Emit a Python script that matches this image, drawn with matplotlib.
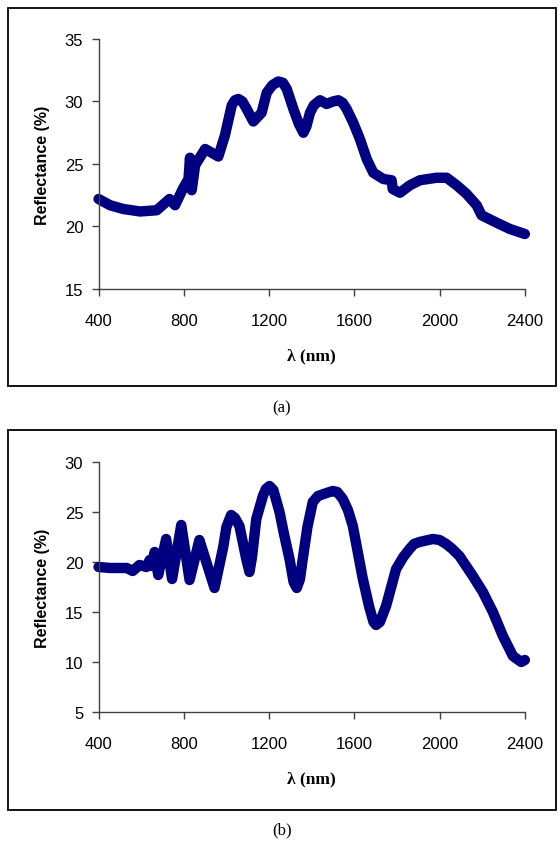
import matplotlib
matplotlib.use("Agg")
import matplotlib.pyplot as plt
from matplotlib.patches import Rectangle

# (a) reflectance spectrum
wl_a = [400, 454, 516, 595, 673, 733, 759, 795, 822, 829, 837, 853, 900, 962,
        993, 1025, 1040, 1056, 1075, 1095, 1126, 1165, 1189, 1215, 1243, 1265,
        1283, 1314, 1340, 1361, 1375, 1392, 1410, 1439, 1470, 1500, 1525, 1545,
        1564, 1595, 1626, 1658, 1689, 1736, 1775, 1780, 1814, 1861, 1908, 1986,
        2033, 2080, 2127, 2174, 2197, 2268, 2330, 2400]
refl_a = [22.2, 21.7, 21.4, 21.2, 21.3, 22.2, 21.7, 23.0, 23.8, 25.5, 22.9, 24.9,
          26.2, 25.6, 27.3, 29.7, 30.1, 30.2, 30.0, 29.4, 28.4, 29.1, 30.7, 31.3,
          31.6, 31.5, 31.0, 29.4, 28.2, 27.5, 28.0, 29.1, 29.7, 30.1, 29.8, 30.0,
          30.1, 29.9, 29.4, 28.3, 27.0, 25.4, 24.3, 23.8, 23.7, 23.0, 22.7, 23.3,
          23.7, 23.9, 23.9, 23.3, 22.6, 21.7, 20.9, 20.3, 19.8, 19.4]

# (b) reflectance spectrum
wl_b = [400, 454, 532, 560, 592, 624, 640, 650, 663, 680, 717, 745, 788, 827,
        873, 944, 985, 1000, 1022, 1040, 1061, 1093, 1108, 1120, 1140, 1171,
        1185, 1202, 1220, 1249, 1270, 1296, 1315, 1330, 1345, 1358, 1380, 1405,
        1430, 1470, 1499, 1520, 1546, 1570, 1593, 1640, 1670, 1690, 1702, 1720,
        1749, 1796, 1830, 1859, 1880, 1906, 1968, 2000, 2031, 2060, 2093, 2156,
        2203, 2250, 2297, 2344, 2383, 2400]
refl_b = [19.5, 19.4, 19.4, 19.1, 19.7, 19.5, 20.2, 19.6, 21.0, 18.7, 22.3, 18.3,
          23.7, 18.2, 22.2, 17.4, 21.5, 23.5, 24.7, 24.4, 23.6, 20.3, 19.0, 20.5,
          24.3, 26.6, 27.3, 27.6, 27.2, 25.0, 22.8, 20.3, 18.0, 17.4, 18.3, 20.3,
          23.5, 26.0, 26.6, 26.9, 27.1, 27.0, 26.3, 25.2, 23.6, 18.3, 15.5, 14.0,
          13.7, 14.0, 15.6, 19.3, 20.5, 21.3, 21.8, 22.0, 22.3, 22.2, 21.8, 21.3,
          20.6, 18.6, 17.0, 15.0, 12.6, 10.6, 10.0, 10.2]

x_ticks = [400, 800, 1200, 1600, 2000, 2400]
y_ticks_a = [15, 20, 25, 30, 35]
y_ticks_b = [5, 10, 15, 20, 25, 30]

navy = "#000080"
axis_col = "#404040"

fig = plt.figure(figsize=(5.6, 8.45), dpi=100)

def style_axes(ax, yticks):
    ax.set_xlim(400, 2400)
    ax.set_ylim(yticks[0], yticks[-1])
    ax.set_xticks(x_ticks)
    ax.set_yticks(yticks)
    for s in ["top", "right"]:
        ax.spines[s].set_visible(False)
    for s in ["left", "bottom"]:
        ax.spines[s].set_color(axis_col)
        ax.spines[s].set_linewidth(1.0)
    ax.tick_params(direction="out", length=5, width=1.0, color=axis_col,
                   labelsize=12, pad=6)
    ax.tick_params(axis="x", pad=12)
    for lab in ax.get_xticklabels() + ax.get_yticklabels():
        lab.set_fontfamily("Liberation Sans")
    ax.set_ylabel("Reflectance (%)", fontsize=11.5, fontweight="bold",
                  fontfamily="Liberation Sans")
    ax.set_xlabel("\u03bb (nm)", fontsize=12.5, fontweight="bold",
                  fontfamily="Liberation Serif")
    ax.yaxis.set_label_coords(-0.115, 0.5)
    ax.xaxis.set_label_coords(0.5, -0.235)
    ax.patch.set_visible(False)

ax1 = fig.add_axes([0.176, 0.6568, 0.7612, 0.2959])
ax1.plot(wl_a, refl_a, color=navy, lw=7.5, solid_capstyle="round",
         solid_joinstyle="round", clip_on=False)
style_axes(ax1, y_ticks_a)

ax2 = fig.add_axes([0.176, 0.1562, 0.7612, 0.2959])
ax2.plot(wl_b, refl_b, color=navy, lw=7.5, solid_capstyle="round",
         solid_joinstyle="round", clip_on=False)
style_axes(ax2, y_ticks_b)

# frames around each panel
fig.patches.append(Rectangle((0.0143, 0.542), 0.979, 0.447, transform=fig.transFigure,
                             fill=False, edgecolor="black", lw=1.3))
fig.patches.append(Rectangle((0.0143, 0.0402), 0.979, 0.4498, transform=fig.transFigure,
                             fill=False, edgecolor="black", lw=1.3))

fig.text(0.503, 0.517, "(a)", ha="center", va="center", fontsize=12,
         fontfamily="Liberation Serif")
fig.text(0.503, 0.0178, "(b)", ha="center", va="center", fontsize=12,
         fontfamily="Liberation Serif")

fig.savefig("out.png", dpi=100)
